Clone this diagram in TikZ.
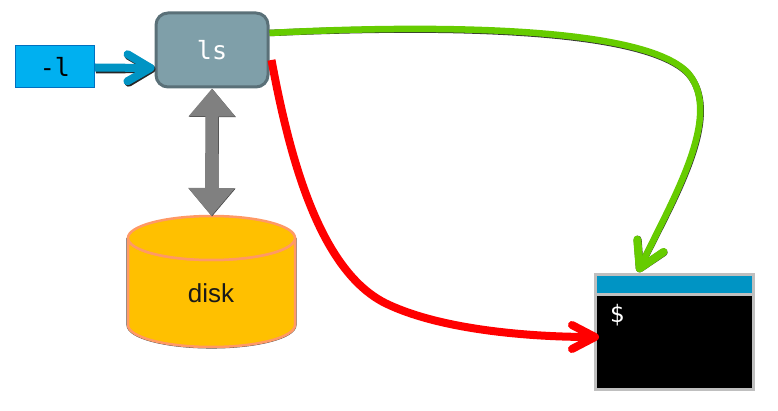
\documentclass[tikz,border=0pt]{standalone}
\usepackage{fontspec}
\setmainfont{Liberation Sans}
\setmonofont{DejaVu Sans Mono}
\usetikzlibrary{arrows.meta,calc}
\definecolor{lsfill}{HTML}{7F9FA9}
\definecolor{lsline}{HTML}{5A7078}
\definecolor{optfill}{HTML}{00B0F0}
\definecolor{optline}{HTML}{0070C0}
\definecolor{flowblue}{HTML}{0094C4}
\definecolor{flowgreen}{HTML}{66CC00}
\definecolor{diskfill}{HTML}{FFC000}
\definecolor{diskline}{HTML}{FF9966}
\definecolor{termline}{HTML}{BFBFBF}
\tikzset{
  lsbox/.style={draw=lsline,fill=lsfill,line width=3pt,rounded corners=12pt,minimum width=112pt,minimum height=74pt,inner sep=0pt,text=white,font=\ttfamily\fontsize{25}{27}\selectfont},
  optbox/.style={draw=optline,fill=optfill,line width=0.8pt,minimum width=79pt,minimum height=42pt,inner sep=0pt,font=\ttfamily\fontsize{25}{27}\selectfont},
  diskshape/.style={draw=diskline,fill=diskfill,line width=2.5pt},
  diskhalo/.style={draw=black!70,line width=3.1pt},
  disktext/.style={font=\fontsize{26}{28}\selectfont,text=black!90},
  region/.style={minimum width=#1,inner sep=0pt,outer sep=0pt},
  barb/.style={-{Straight Barb[length=23pt,width=27pt,round,line width=8pt]},line width=8pt},
  redbarb/.style={-{Straight Barb[length=23pt,width=24pt,round,line width=8pt]},line width=8pt,red},
  greenbarb/.style={-{Straight Barb[length=25pt,width=29pt,round,line width=8pt]},line width=6.5pt},
  bigarrow/.style={{Triangle[length=28pt,width=45pt]}-{Triangle[length=28pt,width=45pt]},line width=13pt}
}
\begin{document}
\begin{tikzpicture}[x=1pt,y=-1pt]
\useasboundingbox (0,0) rectangle (778,411);
% nodes
\node[lsbox] (ls) at (212,50) {ls};
\node[optbox] (opt) at (55,66.5) {-l};
\node[region=167pt,minimum height=131pt] (disk) at (211.5,281.5) {};
\draw[diskhalo] (128,238) -- (128,325) arc[x radius=83.5,y radius=22,start angle=180,end angle=0] -- (295,238) arc[x radius=83.5,y radius=22,start angle=0,end angle=180] -- cycle;
\draw[diskshape] (128,238) -- (128,325) arc[x radius=83.5,y radius=22,start angle=180,end angle=0] -- (295,238) arc[x radius=83.5,y radius=22,start angle=0,end angle=180] -- cycle;
\draw[diskshape] (295,238) arc[x radius=83.5,y radius=22,start angle=0,end angle=360] -- cycle;
\node[disktext] (disklabel) at (211,293) {disk};
\node[draw=termline,fill=black,line width=3pt,minimum width=158pt,minimum height=115pt,inner sep=0pt] (term) at (674.5,332) {};
\node[draw=termline,fill=flowblue,line width=3pt,minimum width=158pt,minimum height=20pt,inner sep=0pt] (titlebar) at (674.5,284.5) {};
\node[text=white,font=\ttfamily\fontsize{24}{26}\selectfont] (prompt) at (617,315) {\$};
% connector end points
\coordinate (gstart) at ($(ls.east)+(0,-17)$);
\coordinate (rstart) at ($(ls.east)+(2,10)$);
\coordinate (rend) at ($(term.west)+(5,5)$);
\coordinate (gend) at ($(titlebar.north west)+(44,-1)$);
% shadows
\draw[barb,black!85] ($(opt.east)+(1,3)$) -- ($(ls.west)+(1,19)$);
\draw[bigarrow,black!75] ($(ls.south)+(0.5,0.5)$) -- ($(disk.north)+(0.5,0.5)$);
% connectors
\draw[barb,flowblue] ($(opt.east)+(0,1)$) -- ($(ls.west)+(0,18)$);
\draw[bigarrow,gray] (ls.south) -- (disk.north);
\draw[greenbarb,black!80,shift={(0.5,1)}] (gstart) .. controls (400,26) and (640,22) .. (688,73) .. controls (724,115) and (672,200) .. (gend);
\draw[greenbarb,flowgreen] (gstart) .. controls (400,26) and (640,22) .. (688,73) .. controls (724,115) and (672,200) .. (gend);
\draw[redbarb] (rstart) .. controls (290,160) and (320,270) .. (385,303) .. controls (440,330) and (530,337) .. (rend);
\end{tikzpicture}
\end{document}
